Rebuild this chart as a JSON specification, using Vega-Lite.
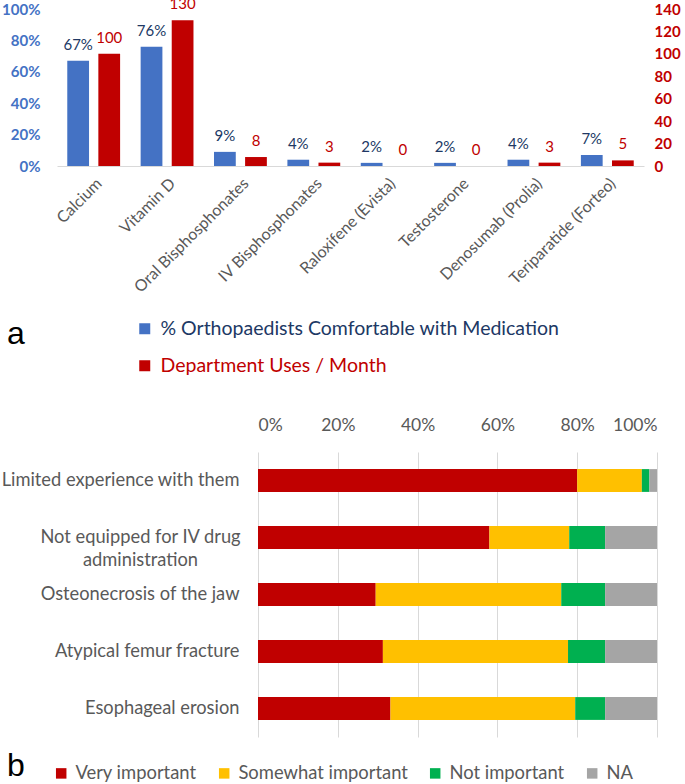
{
  "$schema": "https://vega.github.io/schema/vega-lite/v6.json",
  "padding": {"left": 0, "top": -3, "right": 0, "bottom": 0},
  "config": {
    "font": "Lato",
    "view": {"stroke": null},
    "axis": {"ticks": false, "domain": false, "grid": false, "title": null}
  },
  "spacing": 40,
  "resolve": {"scale": {"color": "independent"}, "legend": {"color": "independent"}},
  "vconcat": [
    {
      "width": 587,
      "height": 157,
      "data": {
        "values": [
          {"med": "Calcium", "series": "% Orthopaedists Comfortable with Medication", "value": 0.67},
          {"med": "Calcium", "series": "Department Uses / Month", "value": 100},
          {"med": "Vitamin D", "series": "% Orthopaedists Comfortable with Medication", "value": 0.76},
          {"med": "Vitamin D", "series": "Department Uses / Month", "value": 130},
          {"med": "Oral Bisphosphonates", "series": "% Orthopaedists Comfortable with Medication", "value": 0.09},
          {"med": "Oral Bisphosphonates", "series": "Department Uses / Month", "value": 8},
          {"med": "IV Bisphosphonates", "series": "% Orthopaedists Comfortable with Medication", "value": 0.04},
          {"med": "IV Bisphosphonates", "series": "Department Uses / Month", "value": 3},
          {"med": "Raloxifene (Evista)", "series": "% Orthopaedists Comfortable with Medication", "value": 0.02},
          {"med": "Raloxifene (Evista)", "series": "Department Uses / Month", "value": 0},
          {"med": "Testosterone", "series": "% Orthopaedists Comfortable with Medication", "value": 0.02},
          {"med": "Testosterone", "series": "Department Uses / Month", "value": 0},
          {"med": "Denosumab (Prolia)", "series": "% Orthopaedists Comfortable with Medication", "value": 0.04},
          {"med": "Denosumab (Prolia)", "series": "Department Uses / Month", "value": 3},
          {"med": "Teriparatide (Forteo)", "series": "% Orthopaedists Comfortable with Medication", "value": 0.07},
          {"med": "Teriparatide (Forteo)", "series": "Department Uses / Month", "value": 5}
        ]
      },
      "encoding": {
        "x": {
          "field": "med",
          "type": "nominal",
          "sort": null,
          "scale": {"paddingInner": 0.28, "paddingOuter": 0.14},
          "axis": {
            "domain": true,
            "domainColor": "#D9D9D9",
            "labelAngle": -45,
            "labelColor": "#595959",
            "labelFontSize": 16,
            "labelPadding": 9
          }
        },
        "xOffset": {
          "field": "series",
          "sort": ["% Orthopaedists Comfortable with Medication", "Department Uses / Month"],
          "scale": {"paddingInner": 0.3, "paddingOuter": 0}
        }
      },
      "layer": [
        {
          "transform": [{"filter": "datum.series == '% Orthopaedists Comfortable with Medication'"}],
          "encoding": {
            "y": {
              "field": "value",
              "type": "quantitative",
              "scale": {"domain": [0, 1]},
              "axis": {
                "format": ".0%",
                "values": [0, 0.2, 0.4, 0.6, 0.8, 1],
                "labelColor": "#4472C4",
                "labelFontWeight": "bold",
                "labelFontSize": 15,
                "labelPadding": 17
              }
            }
          },
          "layer": [
            {
              "mark": "bar",
              "encoding": {
                "color": {
                  "field": "series",
                  "type": "nominal",
                  "scale": {
                    "domain": ["% Orthopaedists Comfortable with Medication", "Department Uses / Month"],
                    "range": ["#4472C4", "#C00000"]
                  },
                  "legend": {
                    "orient": "none",
                    "legendX": -50,
                    "legendY": 310,
                    "direction": "vertical",
                    "title": "a",
                    "titleOrient": "left",
                    "titleFont": "Liberation Sans",
                    "titleFontWeight": "normal",
                    "titleFontSize": 32,
                    "titleColor": "#000000",
                    "titlePadding": 110,
                    "padding": 0,
                    "symbolType": "square",
                    "symbolSize": 121,
                    "symbolStrokeWidth": 0,
                    "labelFontSize": 19.5,
                    "labelOffset": 6,
                    "labelLimit": 0,
                    "rowPadding": 16,
                    "encode": {
                      "title": {"update": {"dy": {"value": -13}}},
                      "labels": {
                        "update": {
                          "fill": {"signal": "datum.label == 'Department Uses / Month' ? '#C00000' : '#203864'"}
                        }
                      }
                    }
                  }
                }
              }
            },
            {
              "mark": {"type": "text", "color": "#203864", "fontSize": 15, "baseline": "middle", "dy": -16},
              "encoding": {"text": {"field": "value", "type": "quantitative", "format": ".0%"}}
            }
          ]
        },
        {
          "transform": [{"filter": "datum.series == 'Department Uses / Month'"}],
          "encoding": {
            "y": {
              "field": "value",
              "type": "quantitative",
              "scale": {"domain": [0, 140]},
              "axis": {
                "orient": "right",
                "values": [0, 20, 40, 60, 80, 100, 120, 140],
                "labelColor": "#C00000",
                "labelFontWeight": "bold",
                "labelFontSize": 15,
                "labelPadding": 10
              }
            }
          },
          "layer": [
            {
              "mark": "bar",
              "encoding": {"color": {"field": "series", "type": "nominal"}}
            },
            {
              "mark": {"type": "text", "color": "#C00000", "fontSize": 15, "baseline": "middle", "dy": -16},
              "encoding": {"text": {"field": "value", "type": "quantitative", "format": "d"}}
            }
          ]
        }
      ],
      "resolve": {"scale": {"y": "independent"}}
    },
    {
      "width": 600,
      "height": 285,
      "data": {
        "values": [
          {"reason": "Limited experience with them", "rating": "Very important", "pct": 80},
          {"reason": "Limited experience with them", "rating": "Somewhat important", "pct": 16.2},
          {"reason": "Limited experience with them", "rating": "Not important", "pct": 1.9},
          {"reason": "Limited experience with them", "rating": "NA", "pct": 1.9},
          {"reason": "Not equipped for IV drug administration", "rating": "Very important", "pct": 58},
          {"reason": "Not equipped for IV drug administration", "rating": "Somewhat important", "pct": 20},
          {"reason": "Not equipped for IV drug administration", "rating": "Not important", "pct": 9},
          {"reason": "Not equipped for IV drug administration", "rating": "NA", "pct": 13},
          {"reason": "Osteonecrosis of the jaw", "rating": "Very important", "pct": 29.5},
          {"reason": "Osteonecrosis of the jaw", "rating": "Somewhat important", "pct": 46.5},
          {"reason": "Osteonecrosis of the jaw", "rating": "Not important", "pct": 11},
          {"reason": "Osteonecrosis of the jaw", "rating": "NA", "pct": 13},
          {"reason": "Atypical femur fracture", "rating": "Very important", "pct": 31.3},
          {"reason": "Atypical femur fracture", "rating": "Somewhat important", "pct": 46.4},
          {"reason": "Atypical femur fracture", "rating": "Not important", "pct": 9.3},
          {"reason": "Atypical femur fracture", "rating": "NA", "pct": 13},
          {"reason": "Esophageal erosion", "rating": "Very important", "pct": 33.2},
          {"reason": "Esophageal erosion", "rating": "Somewhat important", "pct": 46.3},
          {"reason": "Esophageal erosion", "rating": "Not important", "pct": 7.5},
          {"reason": "Esophageal erosion", "rating": "NA", "pct": 13}
        ]
      },
      "mark": "bar",
      "encoding": {
        "y": {
          "field": "reason",
          "type": "nominal",
          "sort": null,
          "scale": {"paddingInner": 0.6, "paddingOuter": 0.3},
          "axis": {
            "offset": -201,
            "labelColor": "#595959",
            "labelFontSize": 18.3,
            "labelPadding": {"condition": {"test": "datum.value == 'Not equipped for IV drug administration'", "value": 118}, "value": 19},
            "labelAlign": {"condition": {"test": "datum.value == 'Not equipped for IV drug administration'", "value": "center"}, "value": "right"},
            "labelLimit": 0,
            "labelLineHeight": 23,
            "labelExpr": "datum.value == 'Not equipped for IV drug administration' ? ['Not equipped for IV drug', 'administration'] : datum.label"
          }
        },
        "x": {
          "field": "pct",
          "type": "quantitative",
          "stack": "zero",
          "scale": {"domain": [0, 100], "range": [201, 600]},
          "axis": {
            "orient": "top",
            "values": [0, 20, 40, 60, 80, 100],
            "labelExpr": "datum.value + '%'",
            "grid": true,
            "gridColor": "#D9D9D9",
            "labelColor": "#595959",
            "labelFontSize": 17.5,
            "labelPadding": 18
          }
        },
        "color": {
          "field": "rating",
          "type": "nominal",
          "sort": ["Very important", "Somewhat important", "Not important", "NA"],
          "scale": {
            "domain": ["Very important", "Somewhat important", "Not important", "NA"],
            "range": ["#C00000", "#FFC000", "#00B050", "#A5A5A5"]
          },
          "legend": {
            "orient": "none",
            "legendX": -50,
            "legendY": 312,
            "direction": "horizontal",
            "title": "b",
            "titleOrient": "left",
            "titleFont": "Liberation Sans",
            "titleFontWeight": "normal",
            "titleFontSize": 32,
            "titleColor": "#000000",
            "titlePadding": 27,
            "padding": 0,
            "symbolType": "square",
            "symbolSize": 110,
            "symbolStrokeWidth": 0,
            "labelFontSize": 18.4,
            "labelColor": "#595959",
            "labelOffset": 5,
            "labelLimit": 0,
            "columnPadding": 18,
            "encode": {"title": {"update": {"dy": {"value": -7}}}}
          }
        },
        "order": {"field": "rating", "sort": "descending"}
      }
    }
  ]
}
